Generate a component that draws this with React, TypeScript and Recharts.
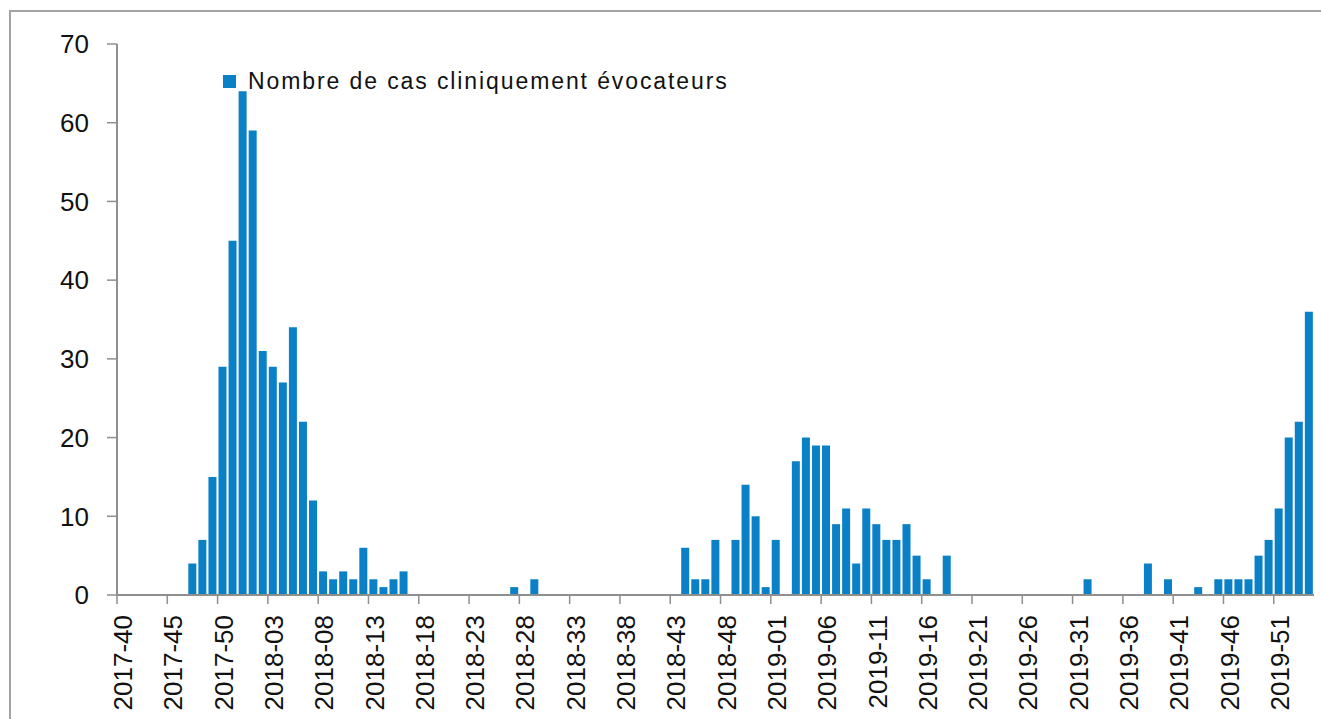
import React from "react";
import { BarChart, Bar, XAxis, YAxis } from "recharts";

// Weekly counts (ISO weeks)
const weeks2017 = [40, 41, 42, 43, 44, 45, 46, 47, 48, 49, 50, 51, 52];
const values2017 = [0, 0, 0, 0, 0, 0, 0, 4, 7, 15, 29, 45, 64];

const values2018 = [
  59, 31, 29, 27, 34, 22, 12, 3, 2, 3, 2, 6, 2, 1, 2, 3, 0, 0, 0, 0,
  0, 0, 0, 0, 0, 0, 1, 0, 2, 0, 0, 0, 0, 0, 0, 0, 0, 0, 0, 0,
  0, 0, 0, 6, 2, 2, 7, 0, 7, 14, 10, 1,
];

const values2019 = [
  7, 0, 17, 20, 19, 19, 9, 11, 4, 11, 9, 7, 7, 9, 5, 2, 0, 5, 0, 0,
  0, 0, 0, 0, 0, 0, 0, 0, 0, 0, 0, 2, 0, 0, 0, 0, 0, 4, 0, 2,
  0, 0, 1, 0, 2, 2, 2, 2, 5, 7, 11, 20,
];

const values2020 = [22, 36];

const yTicks = [0, 10, 20, 30, 40, 50, 60, 70];
const seriesName = "Nombre de cas cliniquement évocateurs";

const pad = (n: number) => (n < 10 ? "0" + n : String(n));

const data: { week: string; cas: number }[] = [];
weeks2017.forEach((w, i) => data.push({ week: `2017-${pad(w)}`, cas: values2017[i] }));
values2018.forEach((v, i) => data.push({ week: `2018-${pad(i + 1)}`, cas: v }));
values2019.forEach((v, i) => data.push({ week: `2019-${pad(i + 1)}`, cas: v }));
values2020.forEach((v, i) => data.push({ week: `2020-${pad(i + 1)}`, cas: v }));

const BAR_COLOR = "#0A80C6";
const AXIS_COLOR = "#8f8f8f";
const FONT = "'Liberation Sans', Arial, sans-serif";

const CHART_W = 1321;
const CHART_H = 719;
const MARGIN = { top: 44, right: 7, bottom: 0, left: 0 };
const Y_W = 117;

const XTick = (props: any) => {
  const { x, y, payload } = props;
  const plotW = CHART_W - MARGIN.right - Y_W;
  const half = payload && payload.offset ? payload.offset : plotW / data.length / 2;
  return (
    <g>
      <line x1={x - half} x2={x - half} y1={y} y2={y + 9} stroke={AXIS_COLOR} strokeWidth={1.5} />
      <text
        x={x + 1}
        y={y + 20}
        transform={`rotate(-90, ${x + 1}, ${y + 20})`}
        textAnchor="end"
        dy="0.35em"
        fontSize={26}
        fontFamily={FONT}
        fill="#111"
      >
        {payload.value}
      </text>
    </g>
  );
};

export default function App() {
  return (
    <div style={{ position: "relative", width: CHART_W, height: CHART_H, overflow: "hidden" }}>
      <style>{"body{margin:0;overflow:hidden}"}</style>
      <div
        style={{
          position: "absolute",
          left: 9,
          top: 10,
          width: 1500,
          height: 900,
          border: "2px solid #a3a3a3",
          boxSizing: "border-box",
        }}
      />
      <div style={{ position: "absolute", left: 0, top: 0 }}>
        <BarChart width={CHART_W} height={CHART_H} data={data} margin={MARGIN} barCategoryGap="9%">
          <XAxis
            dataKey="week"
            interval={4}
            height={124}
            tickLine={false}
            tickSize={0}
            tickMargin={0}
            axisLine={{ stroke: AXIS_COLOR, strokeWidth: 2 }}
            tick={<XTick />}
          />
          <YAxis
            width={Y_W}
            domain={[0, 70]}
            ticks={yTicks}
            interval={0}
            tickSize={10}
            tickMargin={18}
            axisLine={{ stroke: AXIS_COLOR, strokeWidth: 2 }}
            tickLine={{ stroke: AXIS_COLOR, strokeWidth: 1.5 }}
            tick={{ fontSize: 26, fontFamily: FONT, fill: "#111" }}
          />
          <Bar dataKey="cas" name={seriesName} fill={BAR_COLOR} isAnimationActive={false} />
        </BarChart>
      </div>
      <div
        style={{
          position: "absolute",
          left: 223,
          top: 68,
          display: "flex",
          alignItems: "center",
          fontFamily: FONT,
        }}
      >
        <div style={{ width: 13, height: 13, background: BAR_COLOR, marginRight: 12 }} />
        <span style={{ fontSize: 23, letterSpacing: 1.9, color: "#111", whiteSpace: "nowrap" }}>{seriesName}</span>
      </div>
    </div>
  );
}
